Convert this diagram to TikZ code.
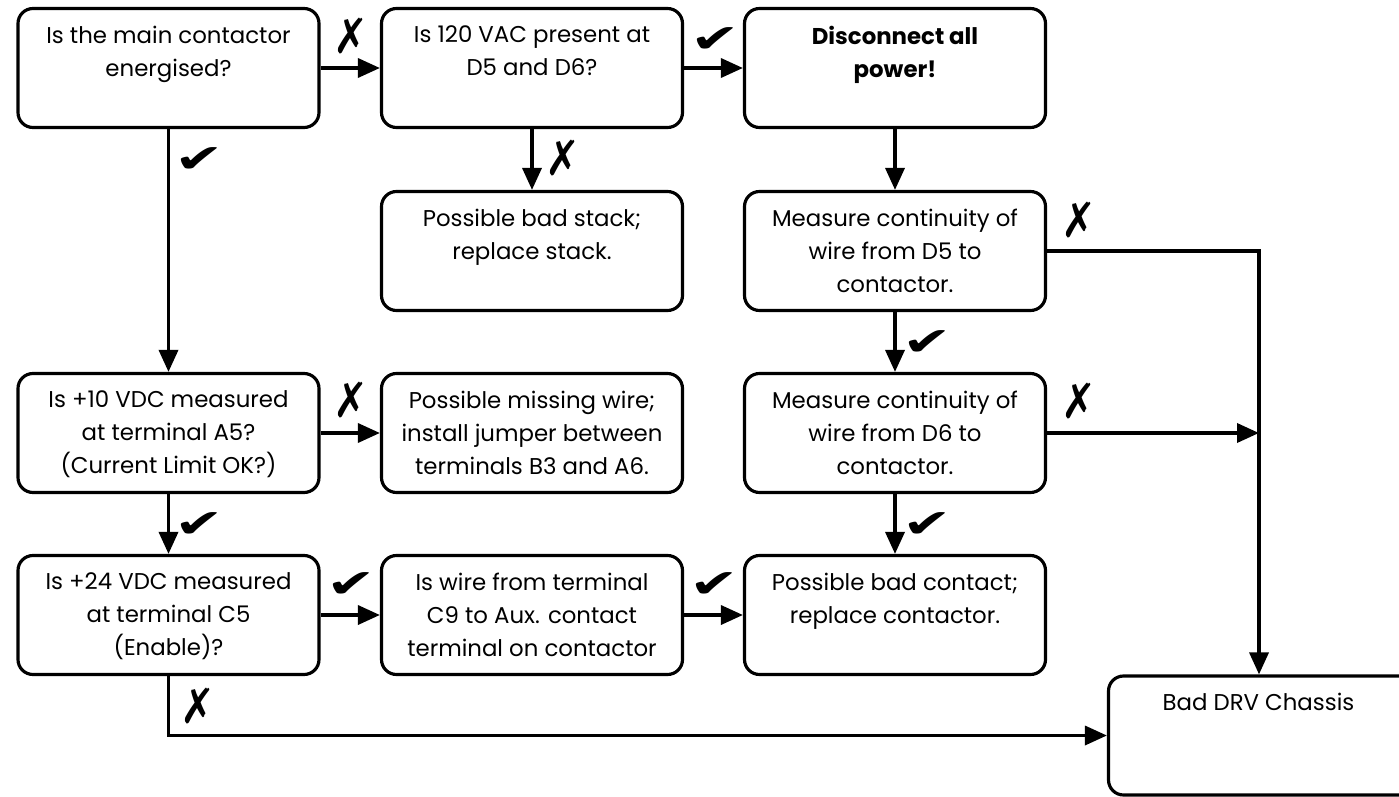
\documentclass[tikz,border=0pt]{standalone}
\usepackage{graphicx}
\usepackage{fontspec}
\setmainfont{Poppins}
\newfontfamily\symfont{DejaVu Sans}
\usetikzlibrary{arrows.meta,positioning}
\def\yes{\scalebox{1.35}[0.9]{\symfont ✔}}
\def\nope{\scalebox{0.95}[1.1]{\symfont ✗}}

\begin{document}
\begin{tikzpicture}[
    frame/.style={draw, line width=1.8pt, rounded corners=0.3cm,
      inner xsep=0.1cm, inner ysep=0.35cm,
      font=\fontsize{13}{18.8}\selectfont},
    box/.style={frame,
      execute at begin node={\begin{minipage}[t][1.68cm][t]{5.82cm}\centering},
      execute at end node={\end{minipage}}},
    widebox/.style={frame,
      execute at begin node={\begin{minipage}[t][1.68cm][t]{6.1cm}\centering\hspace*{-0.3cm}},
      execute at end node={\end{minipage}}},
    flow/.style={line width=2pt, -{Triangle[length=0.44cm,width=0.38cm]}},
    sign/.style={font=\fontsize{25}{25}\selectfont, inner sep=0pt}]
  \useasboundingbox (0,0) rectangle (27.98,-15.94);

  % boxes
  \node[box] (qmain)    at (3.37,-1.36)   {Is the main contactor\\ energised?};
  \node[box] (qvac)     at (10.64,-1.36)  {Is 120 VAC present at\\ D5 and D6?};
  \node[box] (discon)   at (17.9,-1.36)   {\textbf{Disconnect all\\ power!}};
  \node[box] (badstack) at (10.64,-5.02)  {Possible bad stack;\\ replace stack.};
  \node[box] (contd5)   at (17.9,-5.02)   {Measure continuity of\\ wire from D5 to\\ contactor.};
  \node[box] (qten)     at (3.37,-8.66)   {Is +10 VDC measured\\ at terminal A5?\\ (Current Limit OK?)};
  \node[box] (missing)  at (10.64,-8.66)  {Possible missing wire;\\ install jumper between\\ terminals B3 and A6.};
  \node[box] (contd6)   at (17.9,-8.66)   {Measure continuity of\\ wire from D6 to\\ contactor.};
  \node[box] (qtwenty)  at (3.37,-12.3)   {Is +24 VDC measured\\ at terminal C5\\ (Enable)?};
  \node[box] (qwire)    at (10.64,-12.3)  {Is wire from terminal\\ C9 to Aux. contact\\ terminal on contactor};
  \node[box] (badcont)  at (17.9,-12.3)   {Possible bad contact;\\ replace contactor.};
  \node[widebox] (chassis) at (25.32,-14.71) {Bad DRV Chassis};
  \coordinate (drop) at (25.18,-5.02);

  % connectors
  \draw[flow] (qmain) -- (qvac);
  \draw[flow] (qvac) -- (discon);
  \draw[flow] (qmain) -- (qten);
  \draw[flow] (qvac) -- (badstack);
  \draw[flow] (discon) -- (contd5);
  \draw[flow] (contd5.east) -- (drop) -- (drop |- chassis.north);
  \draw[flow] (contd5) -- (contd6);
  \draw[flow] (contd6.east) -- (contd6.east -| drop);
  \draw[flow] (contd6) -- (badcont);
  \draw[flow] (qten) -- (missing);
  \draw[flow] (qten) -- (qtwenty);
  \draw[flow] (qtwenty) -- (qwire);
  \draw[flow] (qwire) -- (badcont);
  \draw[flow] (qtwenty.south) |- (chassis.west);

  % yes / no marks
  \node[sign] (n1) at (7.02,-0.72)  {\nope};
  \node[sign] (y1) at (14.3,-0.8)   {\yes};
  \node[sign] (y2) at (3.98,-3.2)   {\yes};
  \node[sign] (n2) at (11.26,-3.16) {\nope};
  \node[sign] (n3) at (21.58,-4.4)  {\nope};
  \node[sign] (y3) at (18.54,-6.86) {\yes};
  \node[sign] (n4) at (21.58,-8.02) {\nope};
  \node[sign] (n5) at (7.02,-8.0)   {\nope};
  \node[sign] (y4) at (3.98,-10.5)  {\yes};
  \node[sign] (y5) at (18.54,-10.5) {\yes};
  \node[sign] (y6) at (7.02,-11.7)  {\yes};
  \node[sign] (y7) at (14.28,-11.7) {\yes};
  \node[sign] (n6) at (3.96,-14.12) {\nope};
\end{tikzpicture}
\end{document}
